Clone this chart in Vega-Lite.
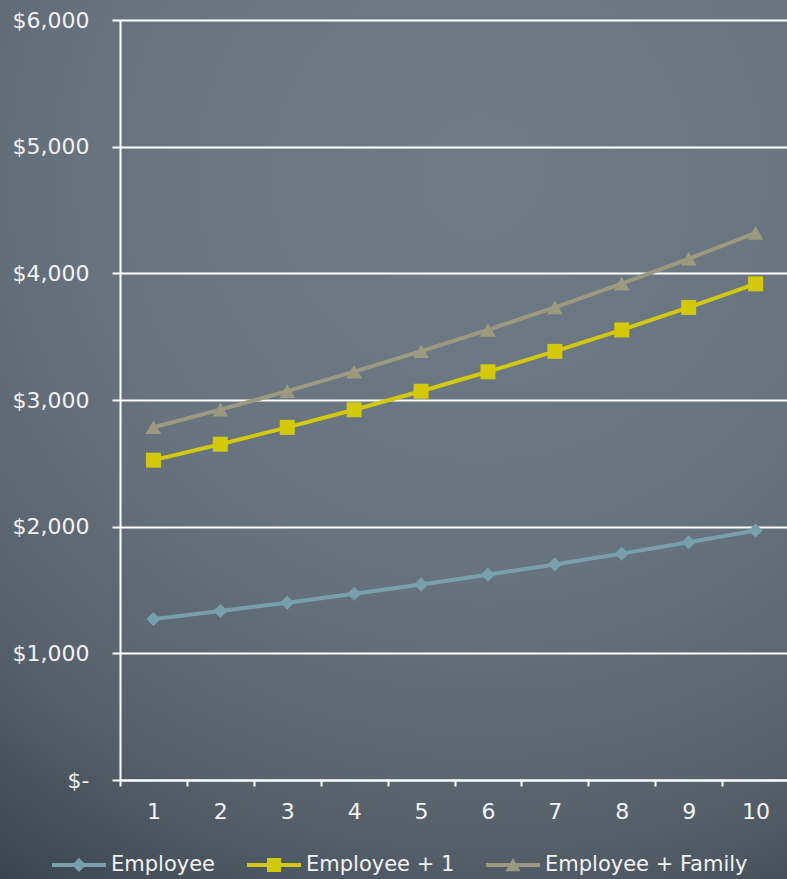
{
  "$schema": "https://vega.github.io/schema/vega-lite/v6.json",
  "width": 787,
  "height": 879,
  "autosize": "none",
  "padding": 0,
  "background": "#4f5a65",
  "view": {
    "stroke": null,
    "fill": {
      "gradient": "radial",
      "x1": 0.6, "y1": 0.2, "r1": 0,
      "x2": 0.6, "y2": 0.2, "r2": 1.0,
      "stops": [
        {"offset": 0, "color": "#6f7b86"},
        {"offset": 0.45, "color": "#67737e"},
        {"offset": 0.75, "color": "#56616c"},
        {"offset": 1, "color": "#35404a"}
      ]
    }
  },
  "data": {
    "values": [
      {"year": 1, "plan": "Employee", "cost": 1270},
      {"year": 2, "plan": "Employee", "cost": 1334},
      {"year": 3, "plan": "Employee", "cost": 1400},
      {"year": 4, "plan": "Employee", "cost": 1470},
      {"year": 5, "plan": "Employee", "cost": 1544},
      {"year": 6, "plan": "Employee", "cost": 1621},
      {"year": 7, "plan": "Employee", "cost": 1702},
      {"year": 8, "plan": "Employee", "cost": 1787},
      {"year": 9, "plan": "Employee", "cost": 1877},
      {"year": 10, "plan": "Employee", "cost": 1970},
      {"year": 1, "plan": "Employee + 1", "cost": 2525},
      {"year": 2, "plan": "Employee + 1", "cost": 2651},
      {"year": 3, "plan": "Employee + 1", "cost": 2784},
      {"year": 4, "plan": "Employee + 1", "cost": 2923},
      {"year": 5, "plan": "Employee + 1", "cost": 3069},
      {"year": 6, "plan": "Employee + 1", "cost": 3223},
      {"year": 7, "plan": "Employee + 1", "cost": 3384},
      {"year": 8, "plan": "Employee + 1", "cost": 3553},
      {"year": 9, "plan": "Employee + 1", "cost": 3731},
      {"year": 10, "plan": "Employee + 1", "cost": 3917},
      {"year": 1, "plan": "Employee + Family", "cost": 2785},
      {"year": 2, "plan": "Employee + Family", "cost": 2924},
      {"year": 3, "plan": "Employee + Family", "cost": 3070},
      {"year": 4, "plan": "Employee + Family", "cost": 3224},
      {"year": 5, "plan": "Employee + Family", "cost": 3385},
      {"year": 6, "plan": "Employee + Family", "cost": 3554},
      {"year": 7, "plan": "Employee + Family", "cost": 3732},
      {"year": 8, "plan": "Employee + Family", "cost": 3919},
      {"year": 9, "plan": "Employee + Family", "cost": 4115},
      {"year": 10, "plan": "Employee + Family", "cost": 4320}
    ]
  },
  "encoding": {
    "x": {
      "field": "year",
      "type": "ordinal",
      "scale": {"type": "band", "range": [120, 789], "paddingInner": 0, "paddingOuter": 0},
      "axis": {
        "title": null,
        "offset": -99,
        "labelAngle": 0,
        "tickBand": "extent",
        "grid": false,
        "domainColor": "#ffffff",
        "domainWidth": 2,
        "tickColor": "#ffffff",
        "tickWidth": 2,
        "tickSize": 6,
        "labelPadding": 15,
        "labelFont": "DejaVu Sans",
        "labelFontSize": 22,
        "labelColor": "#f2f2f2"
      }
    },
    "y": {
      "field": "cost",
      "type": "quantitative",
      "scale": {"domain": [0, 6000], "range": [780, 20], "nice": false, "zero": true},
      "axis": {
        "title": null,
        "offset": -120,
        "values": [0, 1000, 2000, 3000, 4000, 5000, 6000],
        "labelExpr": "datum.value === 0 ? '$-' : format(datum.value, '$,')",
        "grid": true,
        "gridColor": "#ffffff",
        "gridWidth": 2,
        "gridOpacity": 1,
        "domainColor": "#ffffff",
        "domainWidth": 2,
        "tickColor": "#ffffff",
        "tickWidth": 2,
        "tickSize": 8,
        "labelPadding": 23,
        "labelFont": "DejaVu Sans",
        "labelFontSize": 22,
        "labelColor": "#f2f2f2"
      }
    },
    "color": {
      "field": "plan",
      "type": "nominal",
      "scale": {
        "domain": ["Employee", "Employee + 1", "Employee + Family"],
        "range": ["#78a0ac", "#d4c80a", "#9b9a80"]
      },
      "legend": {
        "orient": "none",
        "legendX": 52,
        "legendY": 838,
        "direction": "horizontal",
        "title": null,
        "padding": 0,
        "symbolSize": 2916,
        "symbolStrokeWidth": 0,
        "labelFont": "DejaVu Sans",
        "labelFontSize": 21,
        "labelColor": "#f2f2f2",
        "labelOffset": 5,
        "labelLimit": 400,
        "columnPadding": 31,
        "encode": {
          "symbols": {
            "update": {
              "shape": {"signal": "datum.value === 'Employee' ? 'M-1,-0.074H1V0.074H-1Z M-0.26,0L0,-0.26L0.26,0L0,0.26Z' : datum.value === 'Employee + 1' ? 'M-1,-0.074H1V0.074H-1Z M-0.26,-0.26H0.26V0.26H-0.26Z' : 'M-1,-0.074H1V0.074H-1Z M0,-0.25L0.28,0.23H-0.28Z'"},
              "size": {"value": 2916},
              "strokeWidth": {"value": 0},
              "opacity": {"value": 1}
            }
          }
        }
      }
    }
  },
  "layer": [
    {"mark": {"type": "line", "strokeWidth": 4}},
    {
      "transform": [{"filter": "datum.plan === 'Employee'"}],
      "mark": {"type": "point", "shape": "diamond", "size": 200, "filled": true, "opacity": 1, "strokeWidth": 0}
    },
    {
      "transform": [{"filter": "datum.plan === 'Employee + 1'"}],
      "mark": {"type": "point", "shape": "square", "size": 225, "filled": true, "opacity": 1, "strokeWidth": 0}
    },
    {
      "transform": [{"filter": "datum.plan === 'Employee + Family'"}],
      "mark": {"type": "point", "shape": "triangle-up", "size": 250, "filled": true, "opacity": 1, "strokeWidth": 0}
    }
  ]
}
